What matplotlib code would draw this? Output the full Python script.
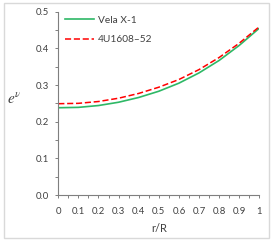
import matplotlib
matplotlib.use("Agg")
import matplotlib.pyplot as plt
from matplotlib.patches import Rectangle
from matplotlib.ticker import FixedLocator, MultipleLocator

plt.rcParams["font.family"] = ["Lato", "DejaVu Sans"]
plt.rcParams["mathtext.fontset"] = "stix"

# Daten
r_R = [0.0, 0.1, 0.2, 0.3, 0.4, 0.5, 0.6, 0.7, 0.8, 0.9, 1.0]
vela_x1 = [0.238, 0.239, 0.244, 0.253, 0.266, 0.283, 0.305, 0.333, 0.367, 0.408, 0.455]
u1608 = [0.249, 0.250, 0.255, 0.264, 0.277, 0.294, 0.315, 0.342, 0.375, 0.414, 0.459]
x_ticks = [0.0, 0.1, 0.2, 0.3, 0.4, 0.5, 0.6, 0.7, 0.8, 0.9, 1.0]
x_ticklabels = ["0", "0.1", "0.2", "0.3", "0.4", "0.5", "0.6", "0.7", "0.8", "0.9", "1"]
y_ticks = [0.0, 0.1, 0.2, 0.3, 0.4, 0.5]
y_ticklabels = ["0.0", "0.1", "0.2", "0.3", "0.4", "0.5"]

fig = plt.figure(figsize=(2.73, 2.43), dpi=100)
ax = fig.add_axes([0.2135, 0.1975, 0.7365, 0.7545])

# Rahmen um die Abbildung
fig.patches.append(
    Rectangle((4 / 273, 1 - 238 / 243), 265 / 273, 235 / 243,
              transform=fig.transFigure, fill=False, edgecolor="#d9d9d9", lw=1.0)
)

ax.plot(r_R, vela_x1, color="#2eb866", lw=1.2, label="Vela X-1")
ax.plot(r_R, u1608, color="#ff0000", lw=1.1, linestyle=(0, (4, 1.8)), label="4U1608\u201352")

ax.set_xlim(0, 1)
ax.set_ylim(0, 0.5)

ax.xaxis.set_major_locator(FixedLocator(x_ticks))
ax.set_xticklabels(x_ticklabels)
ax.xaxis.set_minor_locator(MultipleLocator(0.05))
ax.yaxis.set_major_locator(FixedLocator(y_ticks))
ax.set_yticklabels(y_ticklabels)
ax.yaxis.set_minor_locator(MultipleLocator(0.05))

gray = "#7f7f7f"
for side in ["top", "right"]:
    ax.spines[side].set_visible(False)
for side in ["left", "bottom"]:
    ax.spines[side].set_color(gray)
    ax.spines[side].set_linewidth(0.8)

ax.tick_params(which="both", direction="out", length=2.5, width=0.7, color=gray)
ax.tick_params(axis="x", which="major", labelsize=6.8, labelcolor="#404040", pad=6)
ax.tick_params(axis="y", which="major", labelsize=6.8, labelcolor="#404040", pad=4.5)

ax.set_xlabel("r/R", fontsize=8, color="#404040", labelpad=5)
ax.set_ylabel(r"$e^{\nu}$", fontsize=11, rotation=0, color="#404040", va="center")
ax.yaxis.set_label_coords(-0.22, 0.52)

ax.legend(loc="upper left", bbox_to_anchor=(0.015, 1.0), frameon=False, fontsize=7.3,
          handlelength=2.8, handletextpad=0.4, labelspacing=1.0, borderaxespad=0.1,
          borderpad=0.3, labelcolor="#404040")

plt.savefig("out.png", dpi=100)
